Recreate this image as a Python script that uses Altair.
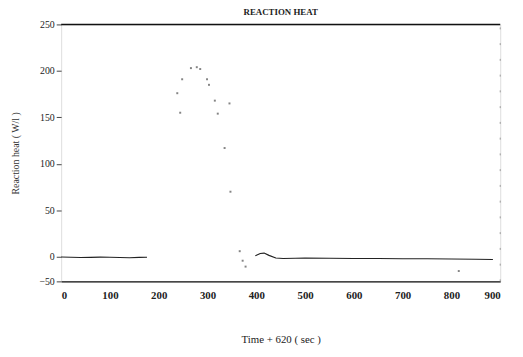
import altair as alt
import pandas as pd

# main trace, first segment (before the gap)
seg1_t = [0, 20, 40, 60, 80, 100, 120, 140, 160, 176]
seg1_q = [-0.5, -1.0, -1.5, -1.2, -0.8, -1.0, -1.5, -2.0, -1.2, -1.0]

# main trace, second segment (after the transient)
seg2_t = [398, 408, 416, 426, 440, 455, 480, 500, 550, 600, 650, 700, 750, 800, 850, 885]
seg2_q = [1.0, 3.5, 4.0, 1.5, -2.5, -3.5, -3.0, -2.5, -3.0, -3.5, -3.5, -4.0, -4.0, -4.5, -5.0, -5.5]

# faint scattered points of the transient peak
dot_t = [238, 244, 248, 266, 278, 285, 299, 303, 315, 321, 335, 345, 347, 366, 372, 378, 815]
dot_q = [176, 155, 191, 203, 204, 202, 191, 185, 168, 154, 117, 165, 70, 6, -8, -20, -29]

y_ticks = [-50, 0, 50, 100, 150, 200, 250]
x_ticks = [0, 100, 200, 300, 400, 500, 600, 700, 800, 900]

W, H = 446, 261
FONT = "Liberation Serif"

lines = pd.DataFrame({
    "t": seg1_t + seg2_t,
    "q": seg1_q + seg2_q,
    "seg": ["a"] * len(seg1_t) + ["b"] * len(seg2_t),
})
dots = pd.DataFrame({"t": dot_t, "q": dot_q})

xs = alt.Scale(domain=[0, 900], nice=False)
ys = alt.Scale(domain=[-50, 0, 250], range=[H, H - 25, 0], nice=False, zero=False)

x_axis = alt.Axis(values=x_ticks, title="Time + 620 ( sec )", grid=False,
                  domain=True, domainColor="#111", domainWidth=1.5,
                  ticks=False, labelPadding=8, titlePadding=34,
                  labelFont=FONT, labelFontSize=11, labelFontWeight="bold",
                  titleFont=FONT, titleFontSize=11, titleFontWeight="normal",
                  labelColor="#222", titleColor="#222")
y_axis = alt.Axis(values=y_ticks, title="Reaction heat ( W/l )", grid=False,
                  domain=False, ticks=True, tickSize=5, tickColor="#444",
                  labelPadding=2, titlePadding=19,
                  labelFont=FONT, labelFontSize=10, labelColor="#222",
                  titleFont=FONT, titleFontSize=10, titleFontWeight="normal",
                  titleColor="#333")

line = alt.Chart(lines).mark_line(color="#222", strokeWidth=1.2).encode(
    x=alt.X("t:Q", scale=xs, axis=x_axis),
    y=alt.Y("q:Q", scale=ys, axis=y_axis),
    detail="seg:N",
)

pts = alt.Chart(dots).mark_square(color="#777", size=4, opacity=0.9).encode(
    x=alt.X("t:Q", scale=xs),
    y=alt.Y("q:Q", scale=ys),
)

top = alt.Chart(pd.DataFrame({"a": [0]})).mark_rule(color="#111", strokeWidth=1.5).encode(
    x=alt.datum(0, scale=xs), x2=alt.datum(900), y=alt.datum(250, scale=ys)
)
right = alt.Chart(pd.DataFrame({"a": [0]})).mark_rule(
    color="#999", strokeWidth=1, strokeDash=[2, 14]
).encode(
    x=alt.datum(900, scale=xs), y=alt.datum(-50, scale=ys), y2=alt.datum(250)
)

chart = alt.layer(top, right, line, pts).properties(
    width=W, height=H,
    title=alt.Title("REACTION HEAT", font=FONT, fontSize=9, fontWeight="bold",
                    color="#222", offset=3),
    autosize=alt.AutoSizeParams(type="none"),
    padding={"left": 54, "top": 14, "right": 15, "bottom": 66},
).configure_view(stroke=None).configure(background="white")

chart.save("out.html", embed_options={"renderer": "svg", "actions": False})
